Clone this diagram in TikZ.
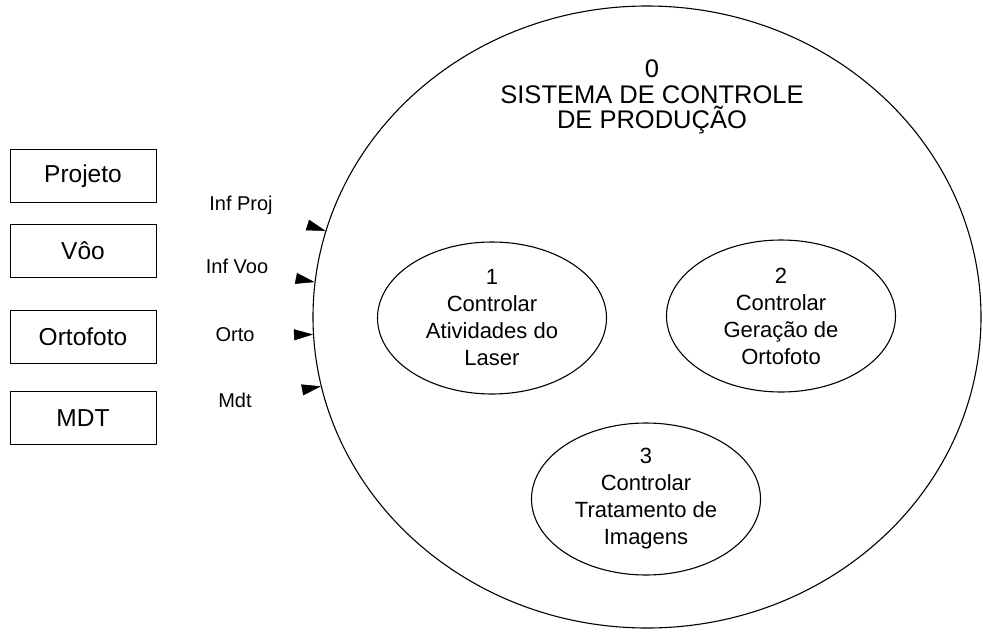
\documentclass[tikz,border=0pt]{standalone}
\usepackage{fontspec}
\setmainfont{Liberation Sans}
\usetikzlibrary{shapes.geometric,arrows.meta,calc}
\begin{document}
\begin{tikzpicture}[x=1pt,y=-1pt,
  entity/.style={draw=black, line width=0.9pt, minimum width=146pt, minimum height=53pt,
    inner sep=0pt, font=\fontsize{24.5}{28}\selectfont},
  process/.style={ellipse, draw=black, line width=1.1pt, minimum width=229pt,
    minimum height=152pt, inner sep=0pt, align=center, font=\fontsize{22}{27}\selectfont},
  context/.style={ellipse, draw=black, line width=1.1pt, minimum width=668pt,
    minimum height=622pt, inner sep=0pt},
  title/.style={align=center, inner sep=0pt, font=\fontsize{25.5}{25.5}\selectfont},
  flowlabel/.style={inner sep=0pt, font=\fontsize{20}{24}\selectfont},
  flowtip/.style={-{Triangle[length=19pt,width=11pt]}, line width=0.5pt}
]
\useasboundingbox (0,0) rectangle (983,635);

% context process
\node[context] (sys) at (647,317) {};
\node[title] (systitle) at (652,97) {0\\SISTEMA DE CONTROLE\\DE PRODUÇÃO};

% sub-processes
\node[process] (p1) at (492,318) {1\\Controlar\\Atividades do\\Laser};
\node[process] (p2) at (781,316) {2\\Controlar\\Geração de\\Ortofoto};
\node[process] (p3) at (646,499) {3\\Controlar\\Tratamento de\\Imagens};

% external entities
\node[entity] (proj) at (83,176) {Projeto};
\node[entity] (voo)  at (83,251) {Vôo};
\node[entity] (orto) at (83,337) {Ortofoto};
\node[entity] (mdt)  at (83,418) {MDT};

% flow labels
\node[flowlabel] (lproj) at (241,205) {Inf Proj};
\node[flowlabel] (lvoo)  at (237,266) {Inf Voo};
\node[flowlabel] (lorto) at (235,335) {Orto};
\node[flowlabel] (lmdt)  at (235,400) {Mdt};

% incoming flows (only the arrow heads are drawn)
\draw[flowtip] ($(sys.165)!19pt!(proj.east)$) -- (sys.165);
\draw[flowtip] ($(sys.174)!19pt!(voo.east)$) -- (sys.174);
\draw[flowtip] ($(sys.183)!19pt!(orto.east)$) -- (sys.183);
\draw[flowtip] ($(sys.192)!19pt!(mdt.east)$) -- (sys.192);
\end{tikzpicture}
\end{document}
